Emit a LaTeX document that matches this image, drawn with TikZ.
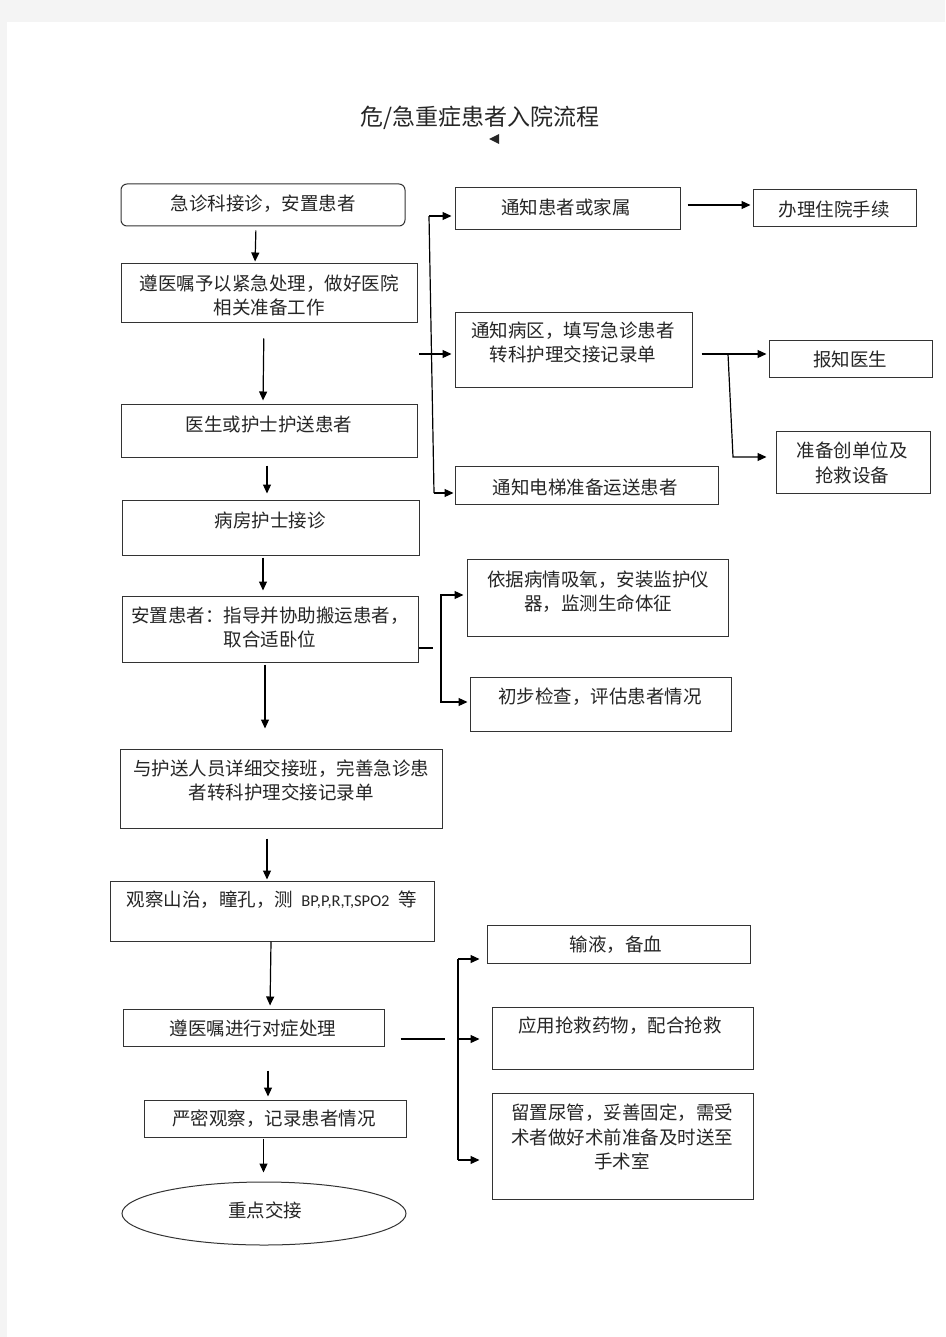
\documentclass[tikz,border=0pt]{standalone}
\usepackage{fontspec}
\newfontfamily\cjk{Noto Sans CJK SC}
\newfontfamily\latf{Carlito}
\usetikzlibrary{arrows.meta,shapes.geometric,fit}
\definecolor{bgc}{HTML}{F4F4F4}
\begin{document}
\begin{tikzpicture}[x=1pt,y=-1pt,
  box/.style={draw=black!80, line width=1pt, inner sep=0pt, rectangle},
  txt/.style={font=\cjk\fontsize{18.5}{24.5}\selectfont, text=black!85, align=center, inner sep=0pt},
  arr/.style={line width=1.2pt, -{Triangle[length=9pt,width=8pt]}},
  ln/.style={line width=1.2pt}]
\useasboundingbox (0,0) rectangle (945,1337);
\fill[bgc] (0,0) rectangle (945,1337);
\fill[white] (7,22) rectangle (945,1337);

% title
\node[font=\cjk\fontsize{23}{28}\selectfont, text=black!85, inner sep=0pt] (title) at (480,118) {危/急重症患者入院流程};
\fill[black!85] (489,139) -- (499,134) -- (499,144) -- cycle;

% left column boxes
\node[box, rounded corners=6pt, fit={(121,184)(405,226)}] (A) {};
\node[box, fit={(121,264)(417,322)}] (B) {};
\node[box, fit={(121,404)(417,457)}] (C) {};
\node[box, fit={(122,500)(419,555)}] (D) {};
\node[box, fit={(122,596)(418,662)}] (E) {};
\node[box, fit={(120,749)(442,828)}] (F) {};
\node[box, fit={(110,881)(434,941)}] (G) {};
\node[box, fit={(123,1009)(384,1046)}] (H) {};
\node[box, fit={(144,1100)(406,1137)}] (I) {};
\node[box, ellipse, minimum width=284pt, minimum height=63pt] (J) at (264,1213.5) {};

% right boxes
\node[box, fit={(455,188)(680,230)}] (K) {};
\node[box, fit={(753,190)(916,227)}] (L) {};
\node[box, fit={(455,312)(692,387)}] (M) {};
\node[box, fit={(769,340)(932,377)}] (N) {};
\node[box, fit={(776,431)(930,493)}] (O) {};
\node[box, fit={(455,466)(718,504)}] (P) {};
\node[box, fit={(467,559)(728,636)}] (Q) {};
\node[box, fit={(470,677)(731,731)}] (R) {};
\node[box, fit={(487,925)(750,963)}] (S) {};
\node[box, fit={(492,1007)(753,1069)}] (T) {};
\node[box, fit={(492,1093)(753,1199)}] (U) {};

% texts
\node[txt] (tA) at (263,204) {急诊科接诊，安置患者};
\node[txt] (tB) at (269,295.5) {遵医嘱予以紧急处理，做好医院\\相关准备工作};
\node[txt] (tC) at (269,424) {医生或护士护送患者};
\node[txt] (tD) at (270,520) {病房护士接诊};
\node[txt] (tE) at (270,627.5) {安置患者：指导并协助搬运患者，\\取合适卧位};
\node[txt] (tF) at (281,780.5) {与护送人员详细交接班，完善急诊患\\者转科护理交接记录单};
\node[txt] (tG) at (272,900) {观察山治，瞳孔，测\hspace{8pt}{\latf\fontsize{16.5}{20}\selectfont BP,P,R,T,SPO2}\hspace{9pt}等};
\node[txt] (tH) at (253,1028) {遵医嘱进行对症处理};
\node[txt] (tI) at (274,1119) {严密观察，记录患者情况};
\node[txt] (tJ) at (265,1210) {重点交接};
\node[txt] (tK) at (566,207) {通知患者或家属};
\node[txt] (tL) at (834,209) {办理住院手续};
\node[txt] (tM) at (573,342.5) {通知病区，填写急诊患者\\转科护理交接记录单};
\node[txt] (tN) at (850,359) {报知医生};
\node[txt] (tO) at (852,463) {准备创单位及\\抢救设备};
\node[txt] (tP) at (585,487) {通知电梯准备运送患者};
\node[txt] (tQ) at (598,591.5) {依据病情吸氧，安装监护仪\\器，监测生命体征};
\node[txt] (tR) at (600,697) {初步检查，评估患者情况};
\node[txt] (tS) at (616,945) {输液，备血};
\node[txt] (tT) at (620,1026) {应用抢救药物，配合抢救};
\node[txt] (tU) at (622,1137) {留置尿管，妥善固定，需受\\术者做好术前准备及时送至\\手术室};

% main column arrows
\draw[arr, shorten <=4pt, shorten >=2pt] ([xshift=-7pt]A.south) -- ([xshift=-14pt]B.north);
\draw[arr, shorten <=16pt, shorten >=3pt] ([xshift=-5pt]B.south) -- ([xshift=-6pt]C.north);
\draw[arr, shorten <=8pt, shorten >=6pt] ([xshift=-2pt]C.south) -- ([xshift=-3.5pt]D.north);
\draw[arr, shorten <=2pt, shorten >=5pt] ([xshift=-7.5pt]D.south) -- ([xshift=-7pt]E.north);
\draw[arr, shorten <=2pt, shorten >=20pt] ([xshift=-5pt]E.south) -- ([xshift=-16pt]F.north);
\draw[arr, shorten <=10pt, shorten >=1pt] ([xshift=-14pt]F.south) -- ([xshift=-5pt]G.north);
\draw[arr, shorten >=3pt] ([xshift=-1pt]G.south) -- ([xshift=16.5pt]H.north);
\draw[arr, shorten <=24pt, shorten >=3pt] ([xshift=14.5pt]H.south) -- ([xshift=-7pt]I.north);
\draw[arr, shorten <=1pt, shorten >=9pt] ([xshift=-11.5pt]I.south) -- ([xshift=-0.5pt]J.north);

% bus 1
\coordinate (b1t) at (429,216);
\coordinate (b1b) at (434,493);
\coordinate (s1) at (419,354);
\draw[ln] (b1t) -- (b1b);
\draw[arr, shorten >=3pt] (b1t) -- (K.west |- b1t);
\draw[arr, shorten >=3pt] (s1) -- (M.west |- s1);
\draw[arr, shorten >=1pt] (b1b) -- (P.west |- b1b);
\draw[arr, shorten <=7pt, shorten >=2pt] (K.east |- 0,205) -- (L.west |- 0,205);

% M branches
\draw[arr, shorten <=9pt, shorten >=2pt] (M.east |- 0,354) -- (N.west |- 0,354);
\coordinate (m1) at (728,354);
\coordinate (m2) at (733,457);
\draw[arr, shorten >=9pt] (m1) -- (m2) -- (O.west |- m2);

% bus 2
\coordinate (e1) at (433,648);
\coordinate (b2t) at (441,595);
\coordinate (b2b) at (441,702);
\draw[ln] (E.east |- e1) -- (e1);
\draw[arr, shorten >=3pt] (b2b) -- (b2t) -- (Q.west |- b2t);
\draw[arr, shorten >=2pt] (b2t) -- (b2b) -- (R.west |- b2b);

% bus 3
\coordinate (h1) at (445,1039);
\coordinate (b3t) at (458,959);
\coordinate (b3m) at (458,1039);
\coordinate (b3b) at (458,1160);
\draw[ln] ([xshift=16pt]H.east |- h1) -- (h1);
\draw[ln] (b3t) -- (b3b);
\draw[arr, shorten >=7pt] (b3t) -- (S.west |- b3t);
\draw[arr, shorten >=12pt] (b3m) -- (T.west |- b3m);
\draw[arr, shorten >=12pt] (b3b) -- (U.west |- b3b);
\end{tikzpicture}
\end{document}
